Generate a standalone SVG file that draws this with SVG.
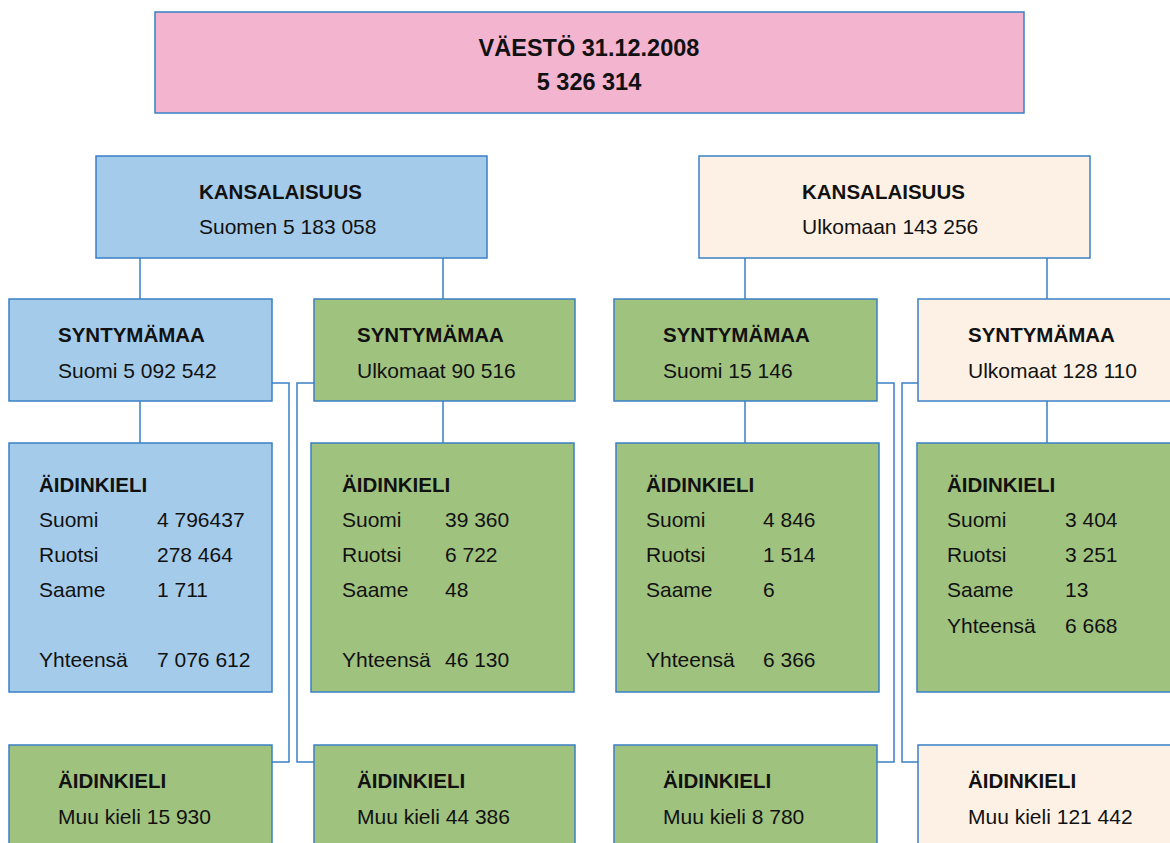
<svg xmlns="http://www.w3.org/2000/svg" width="1170" height="843" viewBox="0 0 1170 843">
<style>
rect{stroke:#3a80c6;stroke-width:1.5}
.pink{fill:#f3b4cf}
.blue{fill:#a5cbea}
.green{fill:#a0c27f}
.cream{fill:#fdf1e5}
text{font-family:"Liberation Sans",Arial,sans-serif;font-size:21px;fill:#111}
.b{font-weight:bold;font-size:20.5px}
.t{font-size:23.5px}
.c{text-anchor:middle}
#connectors path{fill:none;stroke:#3a80c6;stroke-width:1.5}
</style>
<rect width="1170" height="843" fill="#fff" style="stroke:none"/>
<g id="connectors">
<path d="M140 258V299M443 258V299M745 258V299M1047 258V299"/>
<path d="M140 401V443M443 401V443M745 401V443M1047 401V443"/>
<path d="M272 383H289V762H272M314 383H297V762H314"/>
<path d="M877 383H894V762H877M918 383H902V762H918"/>
</g>
<g id="top">
<rect class="pink" x="155" y="12" width="869" height="101"/>
<text class="b c t" x="589" y="56">VÄESTÖ 31.12.2008</text>
<text class="b c t" x="589" y="90">5 326 314</text>
</g>
<g id="kans-suomi">
<rect class="blue" x="96" y="156" width="391" height="102"/>
<text class="b" x="199" y="199">KANSALAISUUS</text>
<text x="199" y="234">Suomen 5 183 058</text>
</g>
<g id="kans-ulko">
<rect class="cream" x="699" y="156" width="391" height="102"/>
<text class="b" x="802" y="199">KANSALAISUUS</text>
<text x="802" y="234">Ulkomaan 143 256</text>
</g>
<g id="synty1">
<rect class="blue" x="9" y="299" width="263" height="102"/>
<text class="b" x="58" y="342">SYNTYMÄMAA</text>
<text x="58" y="378">Suomi 5 092 542</text>
</g>
<g id="synty2">
<rect class="green" x="314" y="299" width="261" height="102"/>
<text class="b" x="357" y="342">SYNTYMÄMAA</text>
<text x="357" y="378">Ulkomaat 90 516</text>
</g>
<g id="synty3">
<rect class="green" x="614" y="299" width="263" height="102"/>
<text class="b" x="663" y="342">SYNTYMÄMAA</text>
<text x="663" y="378">Suomi 15 146</text>
</g>
<g id="synty4">
<rect class="cream" x="918" y="299" width="260" height="102"/>
<text class="b" x="968" y="342">SYNTYMÄMAA</text>
<text x="968" y="378">Ulkomaat 128 110</text>
</g>
<g id="aidin1">
<rect class="blue" x="9" y="443" width="263" height="249"/>
<text class="b" x="39" y="492">ÄIDINKIELI</text>
<text x="39" y="527">Suomi</text><text x="157" y="527">4 796437</text>
<text x="39" y="562">Ruotsi</text><text x="157" y="562">278 464</text>
<text x="39" y="597">Saame</text><text x="157" y="597">1 711</text>
<text x="39" y="667">Yhteensä</text><text x="157" y="667">7 076 612</text>
</g>
<g id="aidin2">
<rect class="green" x="311" y="443" width="263" height="249"/>
<text class="b" x="342" y="492">ÄIDINKIELI</text>
<text x="342" y="527">Suomi</text><text x="445" y="527">39 360</text>
<text x="342" y="562">Ruotsi</text><text x="445" y="562">6 722</text>
<text x="342" y="597">Saame</text><text x="445" y="597">48</text>
<text x="342" y="667">Yhteensä</text><text x="445" y="667">46 130</text>
</g>
<g id="aidin3">
<rect class="green" x="616" y="443" width="263" height="249"/>
<text class="b" x="646" y="492">ÄIDINKIELI</text>
<text x="646" y="527">Suomi</text><text x="763" y="527">4 846</text>
<text x="646" y="562">Ruotsi</text><text x="763" y="562">1 514</text>
<text x="646" y="597">Saame</text><text x="763" y="597">6</text>
<text x="646" y="667">Yhteensä</text><text x="763" y="667">6 366</text>
</g>
<g id="aidin4">
<rect class="green" x="917" y="443" width="260" height="249"/>
<text class="b" x="947" y="492">ÄIDINKIELI</text>
<text x="947" y="527">Suomi</text><text x="1065" y="527">3 404</text>
<text x="947" y="562">Ruotsi</text><text x="1065" y="562">3 251</text>
<text x="947" y="597">Saame</text><text x="1065" y="597">13</text>
<text x="947" y="633">Yhteensä</text><text x="1065" y="633">6 668</text>
</g>
<g id="muu1">
<rect class="green" x="9" y="745" width="263" height="110"/>
<text class="b" x="58" y="788">ÄIDINKIELI</text>
<text x="58" y="824">Muu kieli 15 930</text>
</g>
<g id="muu2">
<rect class="green" x="314" y="745" width="261" height="110"/>
<text class="b" x="357" y="788">ÄIDINKIELI</text>
<text x="357" y="824">Muu kieli 44 386</text>
</g>
<g id="muu3">
<rect class="green" x="614" y="745" width="263" height="110"/>
<text class="b" x="663" y="788">ÄIDINKIELI</text>
<text x="663" y="824">Muu kieli 8 780</text>
</g>
<g id="muu4">
<rect class="cream" x="918" y="745" width="260" height="110"/>
<text class="b" x="968" y="788">ÄIDINKIELI</text>
<text x="968" y="824">Muu kieli 121 442</text>
</g>
</svg>
